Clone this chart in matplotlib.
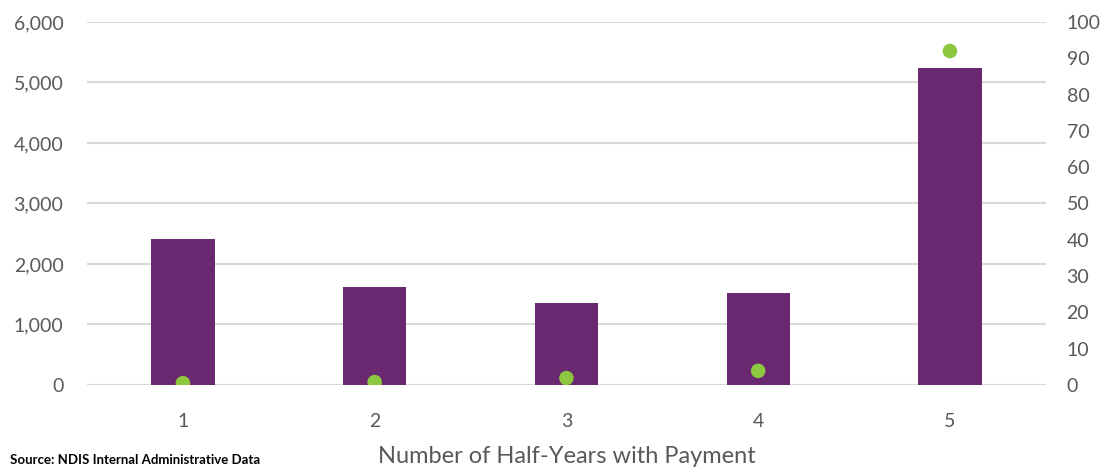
import matplotlib
matplotlib.use("Agg")
import matplotlib.pyplot as plt
from matplotlib.ticker import FuncFormatter, MultipleLocator

# Participants by number of half-years with a payment (left axis)
categories = ["1", "2", "3", "4", "5"]
participants = [2410, 1620, 1355, 1520, 5240]
# Share of total payments, % (right axis)
payment_share = [0.5, 0.8, 1.9, 3.9, 92.0]

plt.rcParams["font.family"] = ["Lato", "DejaVu Sans"]

BAR_COLOR = "#6A2871"
DOT_COLOR = "#8DC63F"
GRID_COLOR = "#D9D9D9"
TEXT_COLOR = "#595959"

fig = plt.figure(figsize=(11.09, 4.68), dpi=100)
ax = fig.add_axes([0.0785, 0.1774, 0.8645, 0.7756])
ax2 = ax.twinx()

x = list(range(len(categories)))
ax.bar(x, participants, width=0.33, color=BAR_COLOR, zorder=2)
ax2.scatter(x, payment_share, s=110, color=DOT_COLOR, zorder=3, edgecolors="none")

ax.set_xlim(-0.5, len(categories) - 0.5)
ax.set_ylim(0, 6000)
ax2.set_ylim(0, 100)
ax.yaxis.set_major_locator(MultipleLocator(1000))
ax2.yaxis.set_major_locator(MultipleLocator(10))
ax.yaxis.set_major_formatter(FuncFormatter(lambda v, p: f"{int(v):,}"))

ax.set_xticks(x)
ax.set_xticklabels(categories)

ax.grid(axis="y", color=GRID_COLOR, linewidth=1.5, zorder=0)
ax.set_axisbelow(True)

for a in (ax, ax2):
    for side in ("top", "left", "right", "bottom"):
        a.spines[side].set_visible(False)
    a.tick_params(length=0, labelsize=14, labelcolor=TEXT_COLOR)

ax.tick_params(axis="y", pad=17)
ax2.tick_params(axis="y", pad=15)
ax.tick_params(axis="x", pad=20)

ax.set_xlabel("Number of Half-Years with Payment", fontsize=17,
              color=TEXT_COLOR, labelpad=12)

fig.text(0.009, 0.004, "Source: NDIS Internal Administrative Data",
         fontsize=9.5, fontweight="bold", color="black", va="bottom", ha="left")

fig.savefig("out.png", dpi=100)
